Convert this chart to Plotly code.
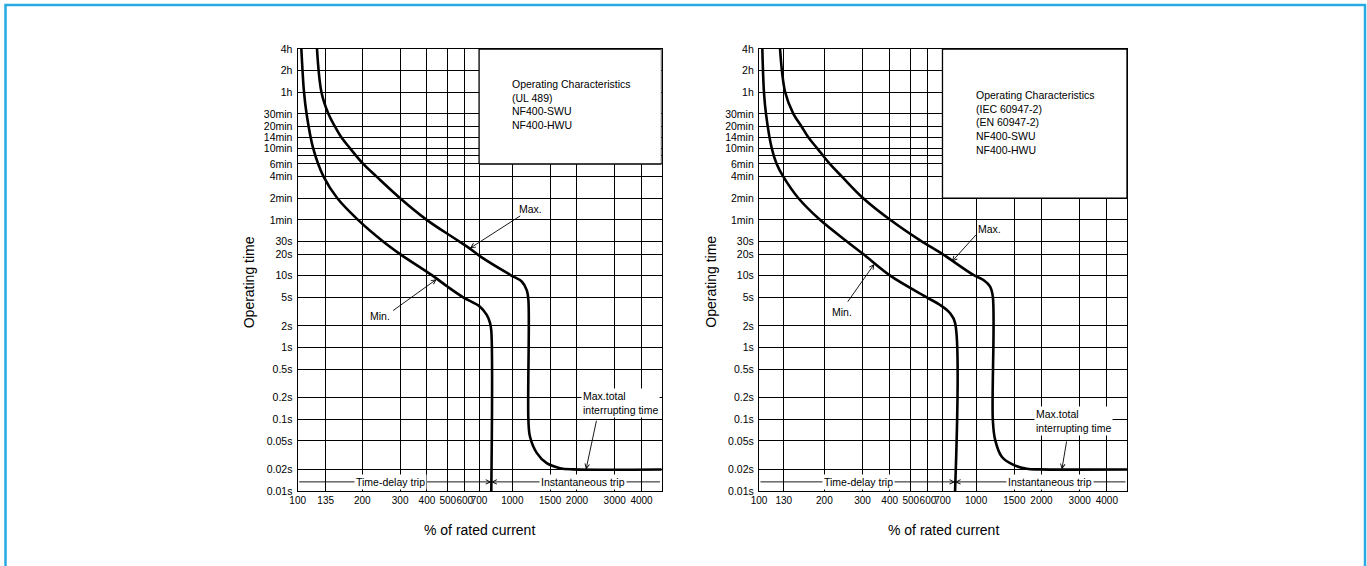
import math
import plotly.graph_objects as go

# Tick values / labels
ul_x_ticks = [100, 135, 200, 300, 400, 500, 600, 700, 1000, 1500, 2000, 3000, 4000]
iec_x_ticks = [100, 130, 200, 300, 400, 500, 600, 700, 1000, 1500, 2000, 3000, 4000]
y_tick_sec = [0.01, 0.02, 0.05, 0.1, 0.2, 0.5, 1, 2, 5, 10, 20, 30, 60, 120, 240, 360,
              480, 600, 840, 1200, 1800, 3600, 7200, 14400]
y_tick_text = ['0.01s', '0.02s', '0.05s', '0.1s', '0.2s', '0.5s', '1s', '2s', '5s', '10s',
               '20s', '30s', '1min', '2min', '4min', '6min', '', '10min', '14min', '20min',
               '30min', '1h', '2h', '4h']

# UL 489 curves (% of rated current, seconds)
ul_min_pct = [104, 107, 110, 118, 132, 153, 191, 250, 300, 425, 500, 590, 707, 760, 787, 798, 798]
ul_min_sec = [14400, 3600, 1800, 600, 240, 120, 60, 30, 20, 10, 7, 5, 3.7, 2.84, 2.2, 1.7, 0.01]
ul_max_pct = [123, 129, 139, 149, 160, 175, 202, 233, 300, 399, 530, 620, 720, 976, 1106, 1167,
              1188, 1188, 1209, 1299, 1446, 1668, 1924, 6000]
ul_max_sec = [14400, 3600, 1800, 1200, 840, 600, 360, 240, 120, 60, 34, 25, 18, 10.3, 8.3, 6.3,
              4.6, 0.098, 0.057, 0.034, 0.0244, 0.0208, 0.02, 0.02]

# IEC 60947-2 curves
iec_min_pct = [103.6, 105.4, 107.7, 114.4, 120.6, 129.4, 152, 191, 254, 302, 402, 592, 683, 759, 800, 800]
iec_min_sec = [14400, 3600, 1800, 600, 360, 240, 120, 60, 30, 20, 10, 5, 3.9, 3.0, 2.2, 0.01]
iec_max_pct = [125, 132, 144, 157, 169, 185, 212, 241, 302, 402, 552, 700, 972, 1081, 1160, 1194,
               1194, 1223, 1313, 1486, 1712, 1972, 6000]
iec_max_sec = [14400, 3600, 1800, 1200, 840, 600, 360, 240, 120, 60, 31, 20, 10.25, 8.7, 7.05, 5.1,
               0.098, 0.052, 0.030, 0.0231, 0.0204, 0.02, 0.02]

# Label boxes (upper right of each grid)
box_left_pct = 700
ul_box_bottom_sec = 360
iec_box_bottom_sec = 120
top_sec = 14400
x_hi = 3.695  # log10 of right edge

ul_box_text = 'Operating Characteristics<br>(UL 489)<br>NF400-SWU<br>NF400-HWU'
iec_box_text = 'Operating Characteristics<br>(IEC 60947-2)<br>(EN 60947-2)<br>NF400-SWU<br>NF400-HWU'

FONT = 'Liberation Sans, Arial, Helvetica, sans-serif'
W, H = 1367, 566
L = math.log10

fig = go.Figure()

# white label boxes (hide the grid behind them)
for xa, ya, bottom in [('x', 'y', ul_box_bottom_sec), ('x2', 'y2', iec_box_bottom_sec)]:
    fig.add_trace(go.Scatter(x=[box_left_pct, 10 ** x_hi, 10 ** x_hi, box_left_pct, box_left_pct],
                             y=[bottom, bottom, top_sec, top_sec, bottom],
                             fill='toself', fillcolor='white', mode='lines',
                             line=dict(color='black', width=1.3),
                             xaxis=xa, yaxis=ya, showlegend=False, hoverinfo='skip'))

# curves
for xa, ya, px, sec in [('x', 'y', ul_min_pct, ul_min_sec), ('x', 'y', ul_max_pct, ul_max_sec),
                        ('x2', 'y2', iec_min_pct, iec_min_sec), ('x2', 'y2', iec_max_pct, iec_max_sec)]:
    fig.add_trace(go.Scatter(x=px, y=sec, mode='lines', line=dict(color='black', width=2.6,
                             shape='spline', smoothing=1.0),
                             xaxis=xa, yaxis=ya, showlegend=False))

axis_common = dict(type='log', showgrid=True, gridcolor='black', gridwidth=1.3,
                   showline=True, mirror=True, linecolor='black', linewidth=1.3,
                   zeroline=False, ticks='', automargin=False, tickangle=0,
                   tickfont=dict(family=FONT, size=10.5, color='black'))
x_font = dict(family=FONT, size=10, color='black')

fig.update_layout(
    width=W, height=H, plot_bgcolor='white', paper_bgcolor='white',
    margin=dict(l=0, r=0, t=0, b=0, autoexpand=False), showlegend=False,
    xaxis=dict(axis_common, domain=[297.7 / W, 661.5 / W], range=[2, x_hi], tickfont=x_font,
               tickvals=ul_x_ticks, ticktext=[str(v) for v in ul_x_ticks], anchor='y'),
    xaxis2=dict(axis_common, domain=[759 / W, 1127 / W], range=[2, x_hi], tickfont=x_font,
                tickvals=iec_x_ticks, ticktext=[str(v) for v in iec_x_ticks], anchor='y2'),
    yaxis=dict(axis_common, domain=[1 - 491 / H, 1 - 49 / H], range=[-2, L(14400)],
               tickvals=y_tick_sec, ticktext=y_tick_text, anchor='x', ticklabelstandoff=2),
    yaxis2=dict(axis_common, domain=[1 - 491 / H, 1 - 49 / H], range=[-2, L(14400)],
                tickvals=y_tick_sec, ticktext=y_tick_text, anchor='x2', ticklabelstandoff=2),
)

ann = []


def arrow(xa, ya, tip, tail):
    ann.append(dict(xref=xa, yref=ya, axref=xa, ayref=ya, x=L(tip[0]), y=L(tip[1]),
                    ax=L(tail[0]), ay=L(tail[1]), text='', showarrow=True,
                    arrowhead=5, arrowsize=1, arrowwidth=0.9, arrowcolor='black', standoff=0))


def label(xa, ya, pos, text, xanchor='center', size=10.5, bg='white'):
    ann.append(dict(xref=xa, yref=ya, x=L(pos[0]), y=L(pos[1]), text=text, showarrow=False,
                    xanchor=xanchor, yanchor='middle', align='left', bgcolor=bg, borderpad=1,
                    font=dict(family=FONT, size=size, color='black')))


trip_sec = 0.0134
# UL 489 panel
arrow('x', 'y', (635, 24.1), (1106, 70.2))
arrow('x', 'y', (444, 8.93), (274, 3.16))
arrow('x', 'y', (2205, 0.02), (2474, 0.1))
arrow('x', 'y', (798, trip_sec), (100, trip_sec))
arrow('x', 'y', (798, trip_sec), (10 ** x_hi, trip_sec))
label('x', 'y', (1209, 85), 'Max.', bg='rgba(0,0,0,0)')
label('x', 'y', (242, 2.75), 'Min.', bg='rgba(0,0,0,0)')
label('x', 'y', (2090, 0.169), 'Max.total<br>interrupting time', xanchor='left')
label('x', 'y', (271, trip_sec), 'Time-delay trip')
label('x', 'y', (2142, trip_sec), 'Instantaneous trip')
label('x', 'y', (976, 2390), ul_box_text, xanchor='left', bg='rgba(0,0,0,0)')

# IEC panel
arrow('x2', 'y2', (773, 15.7), (1014, 39))
arrow('x2', 'y2', (340, 14.6), (253.6, 4.14))
arrow('x2', 'y2', (2483, 0.02), (2618, 0.0516))
arrow('x2', 'y2', (800, trip_sec), (100, trip_sec))
arrow('x2', 'y2', (800, trip_sec), (10 ** x_hi, trip_sec))
label('x2', 'y2', (1148, 44.4), 'Max.', bg='rgba(0,0,0,0)')
label('x2', 'y2', (240.5, 3.16), 'Min.', bg='rgba(0,0,0,0)')
label('x2', 'y2', (1851, 0.095), 'Max.total<br>interrupting time', xanchor='left')
label('x2', 'y2', (287, trip_sec), 'Time-delay trip')
label('x2', 'y2', (2193, trip_sec), 'Instantaneous trip')
label('x2', 'y2', (983, 1363), iec_box_text, xanchor='left', bg='rgba(0,0,0,0)')

# axis titles
for cx in [249.3, 710.7]:
    ann.append(dict(xref='paper', yref='paper', x=cx / W, y=1 - 282 / H, text='Operating time',
                    xanchor='center', yanchor='middle', textangle=-90, showarrow=False,
                    font=dict(family=FONT, size=14, color='black')))
for xd in ['x domain', 'x2 domain']:
    ann.append(dict(xref=xd, yref='paper', x=0.5, y=1 - 530 / H, text='% of rated current',
                    xanchor='center', yanchor='middle', showarrow=False,
                    font=dict(family=FONT, size=14, color='black')))

fig.update_layout(annotations=ann)

# light blue page frame
fig.add_shape(type='rect', xref='paper', yref='paper', x0=5.5 / W, x1=1365 / W,
              y0=-0.2, y1=1 - 5 / H, line=dict(color='#29ABE2', width=2.5), layer='above')

# drop the default page margin so the figure sits at the window's corner
fig.write_html("out.html", config={'displayModeBar': False},
               post_script="document.body.style.margin='0';")
